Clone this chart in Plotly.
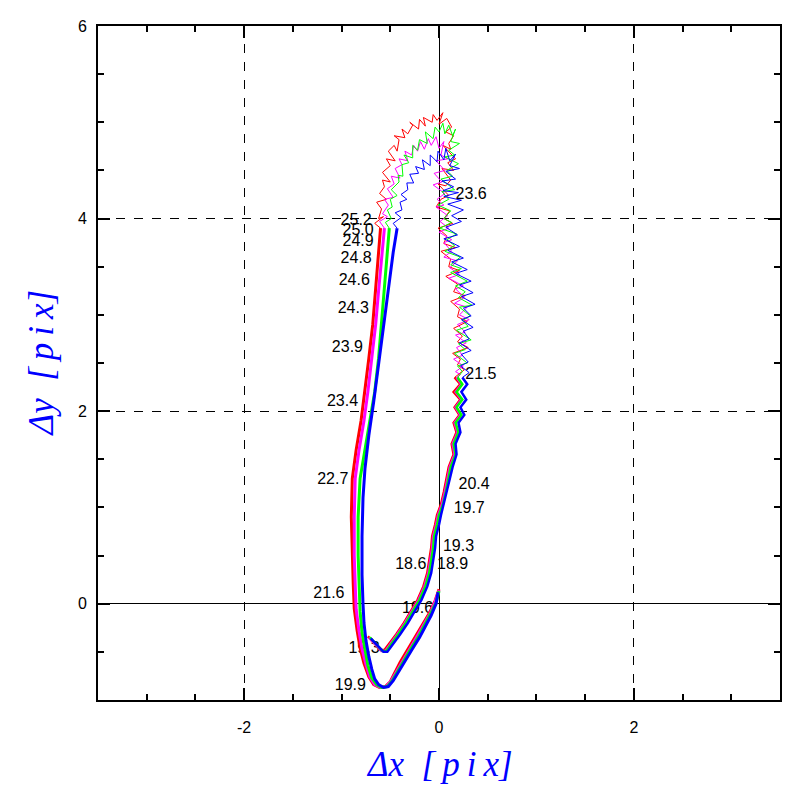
import plotly.graph_objects as go

# ---------------- data ----------------
# Each series: A = lower diagonal + left branch, B = top arch + upper right branch (jittery),
# C = lower right branch + upper diagonal
red_A_x = [0.0,-0.04,-0.1,-0.16,-0.24,-0.32,-0.4,-0.46,-0.5,-0.55,-0.61,-0.67,-0.72,-0.77,-0.81,-0.84,-0.87,-0.88,-0.89,-0.9,-0.89,-0.85,-0.8,-0.76,-0.72,-0.68,-0.65,-0.62,-0.6]
red_A_y = [0.15,0.03,-0.1,-0.2,-0.33,-0.47,-0.61,-0.73,-0.81,-0.86,-0.87,-0.84,-0.76,-0.62,-0.46,-0.28,-0.05,0.2,0.5,0.9,1.3,1.6,1.9,2.2,2.55,2.9,3.25,3.6,3.9]
red_B = [(-0.6,3.9),(-0.66,3.95),(-0.57,4.02),(-0.62,4.0),(-0.59,4.1),(-0.64,4.17),(-0.54,4.2),(-0.61,4.26),(-0.56,4.33),(-0.58,4.4),(-0.5,4.38),(-0.58,4.48),(-0.5,4.55),(-0.54,4.62),(-0.45,4.6),(-0.52,4.7),(-0.46,4.76),(-0.43,4.7),(-0.41,4.82),(-0.46,4.86),(-0.35,4.84),(-0.38,4.93),(-0.32,4.88),(-0.27,4.97),(-0.3,5.0),(-0.21,4.93),(-0.2,5.03),(-0.14,4.96),(-0.16,5.05),(-0.07,5.0),(-0.06,5.08),(-0.02,5.02),(0.04,5.1),(0.0,4.98),(0.08,5.04),(0.13,4.95),(0.07,4.9),(0.15,4.86),(0.1,4.78),(0.12,4.72),(0.04,4.76),(0.17,4.62),(0.09,4.58),(0.15,4.5),(0.03,4.52),(0.12,4.4),(0.07,4.34),(-0.01,4.36),(0.1,4.24),(0.02,4.2),(-0.03,4.12),(0.11,4.08),(0.05,4.0),(0.14,3.95),(-0.01,3.9),(0.08,3.82),(0.05,3.74),(0.17,3.7),(0.02,3.66),(0.12,3.58),(0.1,3.5),(0.21,3.46),(0.07,3.4),(0.19,3.32),(0.15,3.24),(0.27,3.2),(0.12,3.14),(0.21,3.06),(0.19,2.98),(0.29,2.93),(0.15,2.86),(0.24,2.78),(0.19,2.72),(0.3,2.66),(0.14,2.6),(0.22,2.54),(0.19,2.48),(0.26,2.43),(0.16,2.35)]
red_C_x = [0.16,0.22,0.15,0.22,0.16,0.21,0.15,0.18,0.13,0.15,0.1,0.08,0.05,0.02,-0.02,-0.04,-0.07,-0.08,-0.1,-0.12,-0.16,-0.22,-0.29,-0.36,-0.44,-0.51,-0.56,-0.6,-0.65,-0.7,-0.73]
red_C_y = [2.35,2.28,2.2,2.12,2.04,1.96,1.88,1.78,1.66,1.55,1.42,1.3,1.16,1.03,0.92,0.82,0.7,0.58,0.46,0.32,0.18,0.04,-0.08,-0.2,-0.32,-0.42,-0.48,-0.48,-0.43,-0.38,-0.34]

mag_A_x = [0.0,-0.04,-0.09,-0.15,-0.22,-0.3,-0.38,-0.44,-0.49,-0.54,-0.6,-0.66,-0.71,-0.75,-0.79,-0.82,-0.85,-0.86,-0.87,-0.87,-0.86,-0.82,-0.77,-0.73,-0.69,-0.65,-0.62,-0.59,-0.56]
mag_A_y = [0.14,0.02,-0.1,-0.2,-0.33,-0.47,-0.61,-0.72,-0.8,-0.86,-0.87,-0.84,-0.76,-0.63,-0.47,-0.29,-0.06,0.2,0.5,0.9,1.3,1.6,1.9,2.2,2.55,2.9,3.25,3.6,3.9]
mag_B = [(-0.56,3.9),(-0.61,3.97),(-0.53,4.02),(-0.58,4.05),(-0.52,4.14),(-0.56,4.2),(-0.47,4.22),(-0.53,4.31),(-0.46,4.36),(-0.49,4.44),(-0.4,4.42),(-0.45,4.52),(-0.38,4.56),(-0.41,4.62),(-0.32,4.6),(-0.35,4.7),(-0.28,4.66),(-0.26,4.76),(-0.22,4.7),(-0.19,4.8),(-0.15,4.72),(-0.11,4.83),(-0.08,4.76),(-0.03,4.85),(0.0,4.73),(0.05,4.8),(0.02,4.66),(0.09,4.62),(-0.03,4.6),(0.06,4.5),(-0.05,4.47),(0.03,4.38),(-0.06,4.35),(0.06,4.26),(-0.02,4.2),(0.05,4.14),(-0.03,4.12),(0.09,4.03),(0.01,3.97),(0.1,3.9),(0.0,3.86),(0.13,3.78),(0.05,3.75),(0.13,3.66),(0.05,3.6),(0.19,3.56),(0.11,3.49),(0.21,3.42),(0.1,3.38),(0.25,3.3),(0.17,3.27),(0.26,3.18),(0.16,3.12),(0.29,3.08),(0.21,3.0),(0.31,2.95),(0.19,2.9),(0.27,2.82),(0.17,2.79),(0.28,2.71),(0.18,2.66),(0.24,2.58),(0.15,2.54),(0.25,2.47),(0.17,2.41),(0.22,2.38),(0.18,2.35)]
mag_C_x = [0.18,0.23,0.17,0.23,0.17,0.22,0.16,0.19,0.14,0.16,0.11,0.09,0.06,0.03,-0.01,-0.03,-0.06,-0.07,-0.09,-0.11,-0.15,-0.21,-0.28,-0.35,-0.43,-0.5,-0.55,-0.59,-0.64,-0.69,-0.72]
mag_C_y = [2.35,2.28,2.2,2.12,2.04,1.96,1.88,1.78,1.66,1.55,1.42,1.3,1.16,1.03,0.92,0.82,0.7,0.58,0.46,0.32,0.18,0.04,-0.08,-0.2,-0.32,-0.42,-0.49,-0.49,-0.44,-0.39,-0.35]

grn_A_x = [0.0,-0.03,-0.09,-0.14,-0.21,-0.29,-0.37,-0.43,-0.48,-0.53,-0.59,-0.64,-0.69,-0.73,-0.76,-0.79,-0.81,-0.82,-0.83,-0.83,-0.81,-0.76,-0.71,-0.66,-0.62,-0.59,-0.56,-0.53,-0.51]
grn_A_y = [0.13,0.01,-0.11,-0.21,-0.34,-0.47,-0.61,-0.72,-0.8,-0.86,-0.87,-0.84,-0.77,-0.64,-0.48,-0.3,-0.08,0.2,0.5,0.9,1.3,1.6,1.9,2.2,2.55,2.9,3.25,3.6,3.9]
grn_B = [(-0.51,3.9),(-0.55,3.96),(-0.49,4.0),(-0.53,4.09),(-0.48,4.12),(-0.5,4.2),(-0.43,4.24),(-0.49,4.3),(-0.41,4.38),(-0.42,4.45),(-0.37,4.44),(-0.38,4.56),(-0.31,4.58),(-0.36,4.66),(-0.27,4.63),(-0.27,4.76),(-0.22,4.71),(-0.2,4.82),(-0.12,4.78),(-0.14,4.9),(-0.06,4.83),(-0.04,4.95),(0.0,4.9),(0.04,4.99),(0.06,4.88),(0.1,4.97),(0.14,4.86),(0.17,4.93),(0.12,4.8),(0.21,4.78),(0.1,4.71),(0.16,4.66),(0.06,4.64),(0.2,4.57),(0.08,4.5),(0.14,4.44),(0.02,4.41),(0.16,4.3),(0.03,4.28),(0.1,4.2),(-0.01,4.14),(0.12,4.08),(0.05,4.0),(0.13,3.96),(0.01,3.9),(0.18,3.84),(0.08,3.78),(0.16,3.72),(0.06,3.66),(0.22,3.6),(0.12,3.52),(0.23,3.48),(0.12,3.44),(0.29,3.35),(0.17,3.3),(0.27,3.24),(0.2,3.18),(0.34,3.1),(0.21,3.08),(0.32,2.99),(0.24,2.94),(0.3,2.88),(0.18,2.84),(0.33,2.74),(0.2,2.7),(0.27,2.64),(0.16,2.6),(0.29,2.5),(0.19,2.47),(0.24,2.41),(0.19,2.35)]
grn_C_x = [0.19,0.24,0.18,0.24,0.18,0.23,0.17,0.2,0.15,0.17,0.12,0.1,0.07,0.04,0.0,-0.02,-0.05,-0.06,-0.08,-0.1,-0.14,-0.2,-0.27,-0.34,-0.42,-0.49,-0.54,-0.58,-0.63,-0.68,-0.71]
grn_C_y = [2.35,2.28,2.2,2.12,2.04,1.96,1.88,1.78,1.66,1.55,1.42,1.3,1.16,1.03,0.92,0.82,0.7,0.58,0.46,0.32,0.18,0.04,-0.08,-0.2,-0.32,-0.42,-0.49,-0.49,-0.44,-0.39,-0.35]

blu_A_x = [-0.01,-0.03,-0.08,-0.13,-0.2,-0.28,-0.36,-0.42,-0.47,-0.52,-0.57,-0.62,-0.66,-0.69,-0.72,-0.75,-0.77,-0.78,-0.79,-0.79,-0.78,-0.76,-0.72,-0.67,-0.62,-0.57,-0.52,-0.47,-0.43]
blu_A_y = [0.12,0.0,-0.12,-0.22,-0.35,-0.48,-0.62,-0.72,-0.8,-0.86,-0.87,-0.84,-0.78,-0.68,-0.55,-0.38,-0.2,0.0,0.3,0.7,1.1,1.4,1.75,2.1,2.5,2.9,3.3,3.65,3.9]
blu_B = [(-0.43,3.9),(-0.47,3.95),(-0.39,4.01),(-0.45,4.06),(-0.38,4.09),(-0.4,4.17),(-0.33,4.2),(-0.39,4.25),(-0.32,4.3),(-0.33,4.37),(-0.26,4.37),(-0.3,4.46),(-0.21,4.47),(-0.24,4.54),(-0.15,4.51),(-0.17,4.61),(-0.09,4.55),(-0.09,4.66),(-0.02,4.59),(-0.01,4.7),(0.05,4.61),(0.07,4.73),(0.11,4.6),(0.17,4.67),(0.11,4.55),(0.21,4.52),(0.07,4.49),(0.17,4.41),(0.03,4.39),(0.15,4.33),(0.04,4.29),(0.2,4.27),(0.05,4.23),(0.23,4.19),(0.09,4.15),(0.25,4.09),(0.13,4.03),(0.23,3.97),(0.07,3.91),(0.19,3.83),(0.05,3.79),(0.21,3.71),(0.09,3.67),(0.25,3.59),(0.13,3.55),(0.29,3.47),(0.17,3.43),(0.33,3.35),(0.21,3.31),(0.35,3.23),(0.23,3.19),(0.37,3.11),(0.25,3.07),(0.33,2.99),(0.23,2.95),(0.35,2.87),(0.25,2.83),(0.31,2.75),(0.21,2.71),(0.33,2.63),(0.23,2.59),(0.3,2.51),(0.22,2.47),(0.31,2.4),(0.24,2.35)]
blu_C_x = [0.24,0.29,0.23,0.28,0.22,0.26,0.2,0.22,0.17,0.18,0.14,0.11,0.08,0.05,0.02,0.0,-0.03,-0.04,-0.06,-0.08,-0.12,-0.18,-0.25,-0.32,-0.4,-0.47,-0.53,-0.57,-0.62,-0.67,-0.7]
blu_C_y = [2.35,2.28,2.2,2.12,2.04,1.96,1.88,1.78,1.66,1.55,1.42,1.3,1.16,1.03,0.92,0.82,0.7,0.58,0.46,0.32,0.18,0.04,-0.08,-0.2,-0.32,-0.42,-0.5,-0.5,-0.45,-0.4,-0.36]

label_text = ["23.6","25.2","25.0","24.9","24.8","24.6","24.3","23.9","23.4","22.7","21.6","19.9","19.3","19.6","18.6","18.9","19.3","19.7","20.4","21.5"]
label_x = [0.33,-0.85,-0.83,-0.83,-0.85,-0.87,-0.88,-0.94,-0.99,-1.09,-1.13,-0.91,-0.77,-0.22,-0.29,0.14,0.20,0.31,0.36,0.43]
label_y = [4.25,3.97,3.87,3.76,3.58,3.35,3.06,2.66,2.09,1.28,0.10,-0.85,-0.47,-0.05,0.40,0.40,0.59,0.98,1.23,2.38]

x_ticks = [-2, 0, 2]
y_ticks = [0, 2, 4, 6]

series = [
    ("#ff0000", red_A_x, red_A_y, red_B, red_C_x, red_C_y),
    ("#ff00ff", mag_A_x, mag_A_y, mag_B, mag_C_x, mag_C_y),
    ("#00ff00", grn_A_x, grn_A_y, grn_B, grn_C_x, grn_C_y),
    ("#0000ff", blu_A_x, blu_A_y, blu_B, blu_C_x, blu_C_y),
]

fig = go.Figure()

fig.add_trace(go.Scatter(
    x=label_x, y=label_y, text=label_text, mode="text",
    textfont=dict(family="Liberation Sans, Arial, sans-serif", size=16, color="black"),
    showlegend=False, hoverinfo="skip"))

for color, ax, ay, b, cx, cy in series:
    fig.add_trace(go.Scatter(x=ax, y=ay, mode="lines", line=dict(color=color, width=3),
                             showlegend=False))
    fig.add_trace(go.Scatter(x=[p[0] for p in b], y=[p[1] for p in b], mode="lines",
                             line=dict(color=color, width=1), showlegend=False))
    fig.add_trace(go.Scatter(x=cx, y=cy, mode="lines", line=dict(color=color, width=2.5),
                             showlegend=False))

axis_common = dict(
    showline=True, linecolor="black", linewidth=2, mirror="ticks",
    ticks="inside", ticklen=12, tickwidth=2, tickcolor="black",
    showgrid=True, gridcolor="black", gridwidth=1, griddash="dash",
    zeroline=True, zerolinecolor="black", zerolinewidth=1,
    tickfont=dict(family="Liberation Sans, Arial, sans-serif", size=16, color="black"),
    minor=dict(dtick=0.5, ticks="inside", ticklen=6, tickwidth=2, tickcolor="black", showgrid=False),
)

fig.update_xaxes(range=[-3.5, 3.5], tickmode="array", tickvals=x_ticks,
                 ticktext=[str(v) for v in x_ticks], ticklabelstandoff=12, **axis_common)
fig.update_yaxes(range=[-1, 6], tickmode="array", tickvals=y_ticks,
                 ticktext=[str(v) for v in y_ticks], ticklabelstandoff=6, **axis_common)

title_font = dict(family="Liberation Serif, Times New Roman, serif", size=35, color="#0000ff")
fig.add_annotation(text="<i>Δx\u2002[\u2009p\u2009i\u2009x]</i>", xref="paper", yref="paper",
                   x=0.5, y=-0.095, xanchor="center", yanchor="middle", showarrow=False,
                   font=title_font)
fig.add_annotation(text="<i>Δy\u2002[\u2009p\u2009i\u2009x]</i>", xref="paper", yref="paper",
                   x=-0.083, y=0.5, xanchor="center", yanchor="middle", showarrow=False,
                   textangle=-90, font=title_font)

fig.update_layout(
    width=797, height=797,
    margin=dict(l=90, r=25, t=10, b=105),
    plot_bgcolor="white", paper_bgcolor="white",
    showlegend=False,
)

fig.write_html("out.html")
